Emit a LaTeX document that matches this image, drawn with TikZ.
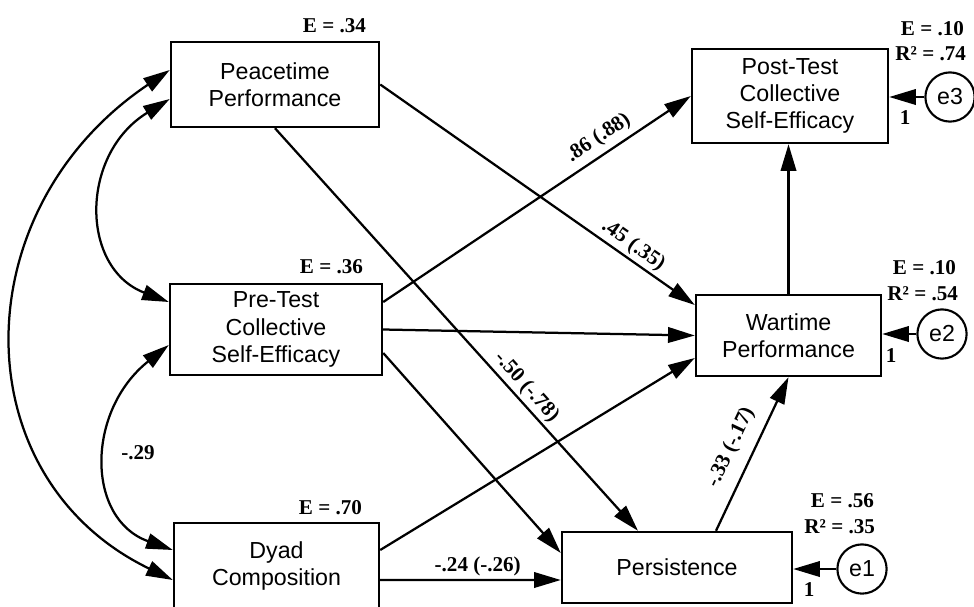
\documentclass[tikz,border=0pt]{standalone}
\usepackage{fontspec}
\setmainfont{Liberation Serif}
\setsansfont{Liberation Sans}
\usetikzlibrary{arrows.meta,calc}
\tikzset{
  var/.style={draw, line width=1.7pt, align=center, inner sep=0pt,
    font=\sffamily\fontsize{16.5}{19.3}\selectfont},
  err/.style={draw, circle, line width=1.5pt, minimum size=35pt, inner sep=0pt,
    font=\sffamily\fontsize{16.5}{19.3}\selectfont},
  lbl/.style={font=\bfseries\fontsize{15}{18}\selectfont, inner sep=2pt},
  effect/.style={->, line width=1.6pt},
  cov/.style={<->, line width=1.6pt}
}
\begin{document}
\begin{tikzpicture}[x=0.025cm, y=-0.025cm, >={Triangle[length=19pt,width=11pt]}]
\useasboundingbox (0,0) rectangle (974,606);
% observed variables
\node[var, minimum width=148pt, minimum height=60.5pt] (peace) at (275,84.5) {Peacetime\\Performance};
\node[var, minimum width=150.8pt, minimum height=64.7pt] (pre) at (276,329.5) {Pre-Test\\Collective\\Self-Efficacy};
\node[var, minimum width=145.8pt, minimum height=61.2pt] (dyad) at (276.5,566) {Dyad\\Composition};
\node[var, minimum width=139.4pt, minimum height=66.9pt] (post) at (790,96) {Post-Test\\Collective\\Self-Efficacy};
\node[var, minimum width=131.6pt, minimum height=57.6pt] (war) at (788.5,335.5) {Wartime\\Performance};
\node[var, minimum width=163.6pt, minimum height=50.5pt] (pers) at (677,567.5) {Persistence};
% error terms
\node[err] (e3) at (950,97) {e3};
\node[err] (e2) at (942,334) {e2};
\node[err] (e1) at (862,569) {e1};
% estimates
\node[lbl, anchor=base east] (Epeace) at (369,32) {E = .34};
\node[lbl, anchor=base east] (Epre) at (366,273) {E = .36};
\node[lbl, anchor=base east] (Edyad) at (365,514) {E = .70};
\node[lbl, anchor=base east] (Epost) at (967,35) {E = .10};
\node[lbl, anchor=base east] (Rpost) at (969,60) {R² = .74};
\node[lbl, anchor=base east] (Ewar) at (959,274) {E = .10};
\node[lbl, anchor=base east] (Rwar) at (961,300) {R² = .54};
\node[lbl, anchor=base east] (Epers) at (877,507) {E = .56};
\node[lbl, anchor=base east] (Rpers) at (878,533) {R² = .35};
% paths
\draw[effect] (peace.east) -- node[lbl, pos=0.78, above, sloped] (b45) {.45 (.35)} ($(war.west)+(0,-30.5)$);
\draw[effect] (peace.south) -- node[lbl, pos=0.665, above, sloped] (b50) {-.50 (-.78)} ($(pers.north)+(-39,0)$);
\draw[effect] ($(pre.east)+(0,-27.5)$) -- node[lbl, pos=0.73, above=2pt, sloped] (b86) {.86 (.88)} (post.west);
\draw[effect] (pre.east) -- (war.west);
\draw[effect] ($(pre.east)+(0,23.5)$) -- ($(pers.west)+(0,-14.5)$);
\draw[effect] ($(dyad.east)+(0,-16)$) -- ($(war.west)+(0,22.5)$);
\draw[effect] ($(dyad.east)+(0,14)$) -- node[lbl, pos=0.54, above] (b24) {-.24 (-.26)} ($(pers.west)+(0,12.5)$);
\draw[effect] ($(pers.north)+(39,0)$) -- node[lbl, pos=0.48, above=6pt, sloped] (b33) {-.33 (-.17)} (war.south);
\draw[effect] (war.north) -- (war.north |- post.south);
% residuals
\draw[effect] (e3) -- (e3 -| post.east);
\draw[effect] (e2) -- (e2 -| war.east);
\draw[effect] (e1) -- (e1 -| pers.east);
\node[lbl] (one3) at ($(post.east)+(16,22)$) {1};
\node[lbl] (one2) at ($(war.east)+(9,20)$) {1};
\node[lbl] (one1) at ($(pers.east)+(16,22)$) {1};
% correlations
\draw[cov] ($(peace.west)+(0,-14.5)$) .. controls ($(peace.west)+(-208,125.5)$) and ($(dyad.west)+(-211,-88)$) .. ($(dyad.west)+(0,14)$);
\draw[cov] ($(peace.west)+(0,14.5)$) .. controls ($(peace.west)+(-90,69.5)$) and ($(pre.west)+(-89,-61.5)$) .. ($(pre.west)+(0,-27.5)$);
\draw[cov] ($(pre.west)+(0,15.5)$) .. controls ($(pre.west)+(-83,81.5)$) and ($(dyad.west)+(-87,-47)$) .. ($(dyad.west)+(0,-16)$);
\node[lbl] (c29) at (138,453) {-.29};
\end{tikzpicture}
\end{document}
